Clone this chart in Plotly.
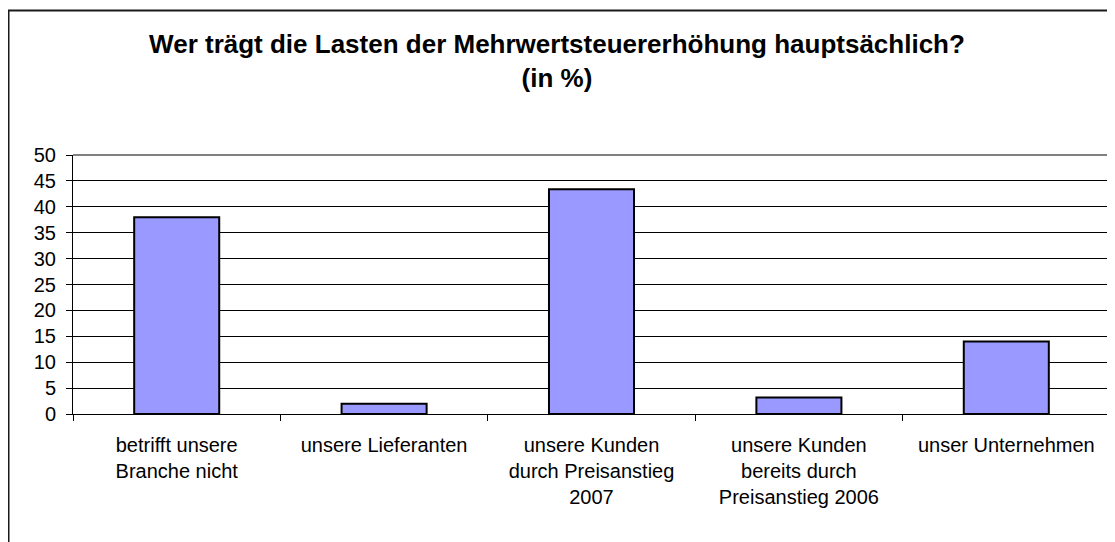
import plotly.graph_objects as go

categories = [
    "betrifft unsere<br>Branche nicht",
    "unsere Lieferanten",
    "unsere Kunden<br>durch Preisanstieg<br>2007",
    "unsere Kunden<br>bereits durch<br>Preisanstieg 2006",
    "unser Unternehmen",
]
values = [38.0, 2.0, 43.4, 3.2, 14.0]
y_ticks = list(range(0, 51, 5))

# the page body adds an 8px offset; work in window pixels and compensate
OFF = 8
WIN_W, WIN_H = 1115, 542
W, H = WIN_W - OFF, WIN_H - OFF
# plot area in window pixels
PL, PR, PT, PB = 73, 1110, 155, 414
L, R, T, B = PL - OFF, W - (PR - OFF), PT - OFF, H - (PB - OFF)
pw, ph = W - L - R, H - T - B

def px_x(x):
    return (x - OFF - L) / pw

def px_y(y):
    return (H - B - (y - OFF)) / ph

FONT = "Liberation Sans, Arial, sans-serif"

fig = go.Figure(
    go.Bar(
        x=categories,
        y=values,
        marker=dict(color="#9999FF", line=dict(color="black", width=2)),
        hoverinfo="x+y",
    )
)

fig.update_layout(
    width=W,
    height=H,
    margin=dict(l=L, r=R, t=T, b=B),
    paper_bgcolor="white",
    plot_bgcolor="white",
    bargap=0.59,
    showlegend=False,
    font=dict(family=FONT, size=20, color="black"),
    title=dict(
        text="<b>Wer trägt die Lasten der Mehrwertsteuererhöhung hauptsächlich?<br>(in %)</b>",
        x=(557 - OFF) / W,
        xref="container",
        xanchor="center",
        y=1 - (53 - OFF) / H,
        yanchor="top",
        font=dict(family=FONT, size=26, color="black"),
    ),
    xaxis=dict(
        type="category",
        showline=True,
        linecolor="black",
        linewidth=1,
        ticks="outside",
        tickson="boundaries",
        ticklen=6,
        tickcolor="black",
        showgrid=False,
        tickfont=dict(size=20),
        ticklabelstandoff=13,
    ),
    yaxis=dict(
        range=[0, 50],
        tickvals=y_ticks,
        showline=True,
        linecolor="black",
        linewidth=1,
        ticks="outside",
        ticklen=6,
        tickcolor="black",
        showgrid=True,
        gridcolor="black",
        gridwidth=1,
        zeroline=False,
        tickfont=dict(size=20),
        ticklabelstandoff=6,
    ),
    shapes=[
        dict(type="line", xref="paper", yref="paper", x0=0, x1=1, y0=1, y1=1,
             line=dict(color="#808080", width=2), layer="above"),
        dict(type="line", xref="paper", yref="paper", x0=1, x1=1, y0=0, y1=1,
             line=dict(color="#808080", width=2), layer="above"),
        dict(type="rect", xref="paper", yref="paper",
             x0=px_x(8.5), x1=px_x(1125), y0=px_y(10.5), y1=px_y(560),
             line=dict(color="#1a1a1a", width=2), layer="above"),
    ],
)

fig.write_html("out.html")
